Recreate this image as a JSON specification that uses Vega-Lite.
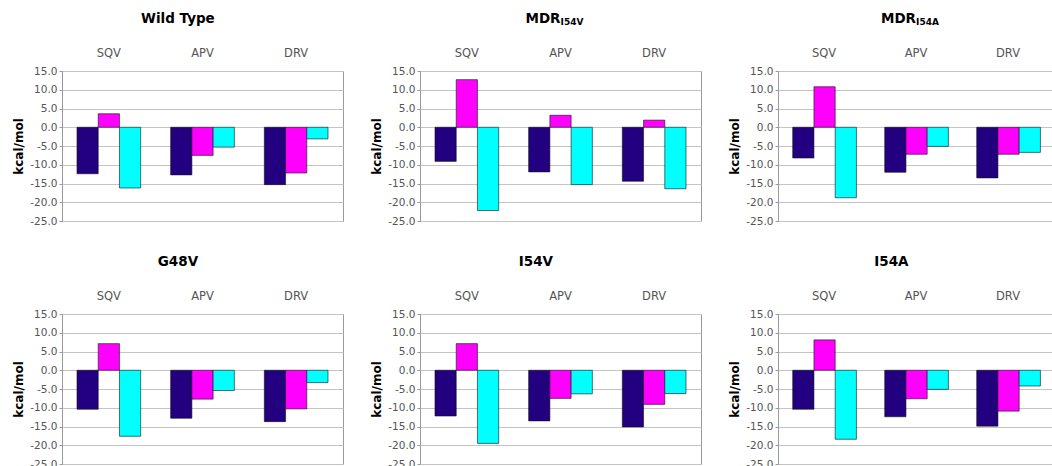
{
  "$schema": "https://vega.github.io/schema/vega-lite/v6.json",
  "background": "white",
  "padding": {"left": 12, "top": 11, "right": 0, "bottom": -3},
  "data": {"values": [
    {"panel": "Wild Type", "drug": "SQV", "component": "ΔG", "value": -12.4},
    {"panel": "Wild Type", "drug": "SQV", "component": "ΔH", "value": 3.6},
    {"panel": "Wild Type", "drug": "SQV", "component": "-TΔS", "value": -16.2},
    {"panel": "Wild Type", "drug": "APV", "component": "ΔG", "value": -12.7},
    {"panel": "Wild Type", "drug": "APV", "component": "ΔH", "value": -7.5},
    {"panel": "Wild Type", "drug": "APV", "component": "-TΔS", "value": -5.3},
    {"panel": "Wild Type", "drug": "DRV", "component": "ΔG", "value": -15.3},
    {"panel": "Wild Type", "drug": "DRV", "component": "ΔH", "value": -12.2},
    {"panel": "Wild Type", "drug": "DRV", "component": "-TΔS", "value": -3.1},
    {"panel": "MDR I54V", "drug": "SQV", "component": "ΔG", "value": -9.1},
    {"panel": "MDR I54V", "drug": "SQV", "component": "ΔH", "value": 12.7},
    {"panel": "MDR I54V", "drug": "SQV", "component": "-TΔS", "value": -22.2},
    {"panel": "MDR I54V", "drug": "APV", "component": "ΔG", "value": -11.9},
    {"panel": "MDR I54V", "drug": "APV", "component": "ΔH", "value": 3.2},
    {"panel": "MDR I54V", "drug": "APV", "component": "-TΔS", "value": -15.3},
    {"panel": "MDR I54V", "drug": "DRV", "component": "ΔG", "value": -14.4},
    {"panel": "MDR I54V", "drug": "DRV", "component": "ΔH", "value": 1.9},
    {"panel": "MDR I54V", "drug": "DRV", "component": "-TΔS", "value": -16.4},
    {"panel": "MDR I54A", "drug": "SQV", "component": "ΔG", "value": -8.2},
    {"panel": "MDR I54A", "drug": "SQV", "component": "ΔH", "value": 10.8},
    {"panel": "MDR I54A", "drug": "SQV", "component": "-TΔS", "value": -18.8},
    {"panel": "MDR I54A", "drug": "APV", "component": "ΔG", "value": -12.0},
    {"panel": "MDR I54A", "drug": "APV", "component": "ΔH", "value": -7.2},
    {"panel": "MDR I54A", "drug": "APV", "component": "-TΔS", "value": -5.1},
    {"panel": "MDR I54A", "drug": "DRV", "component": "ΔG", "value": -13.5},
    {"panel": "MDR I54A", "drug": "DRV", "component": "ΔH", "value": -7.2},
    {"panel": "MDR I54A", "drug": "DRV", "component": "-TΔS", "value": -6.7},
    {"panel": "G48V", "drug": "SQV", "component": "ΔG", "value": -10.4},
    {"panel": "G48V", "drug": "SQV", "component": "ΔH", "value": 7.1},
    {"panel": "G48V", "drug": "SQV", "component": "-TΔS", "value": -17.6},
    {"panel": "G48V", "drug": "APV", "component": "ΔG", "value": -12.8},
    {"panel": "G48V", "drug": "APV", "component": "ΔH", "value": -7.7},
    {"panel": "G48V", "drug": "APV", "component": "-TΔS", "value": -5.4},
    {"panel": "G48V", "drug": "DRV", "component": "ΔG", "value": -13.7},
    {"panel": "G48V", "drug": "DRV", "component": "ΔH", "value": -10.3},
    {"panel": "G48V", "drug": "DRV", "component": "-TΔS", "value": -3.3},
    {"panel": "I54V", "drug": "SQV", "component": "ΔG", "value": -12.2},
    {"panel": "I54V", "drug": "SQV", "component": "ΔH", "value": 7.1},
    {"panel": "I54V", "drug": "SQV", "component": "-TΔS", "value": -19.5},
    {"panel": "I54V", "drug": "APV", "component": "ΔG", "value": -13.5},
    {"panel": "I54V", "drug": "APV", "component": "ΔH", "value": -7.5},
    {"panel": "I54V", "drug": "APV", "component": "-TΔS", "value": -6.3},
    {"panel": "I54V", "drug": "DRV", "component": "ΔG", "value": -15.1},
    {"panel": "I54V", "drug": "DRV", "component": "ΔH", "value": -9.1},
    {"panel": "I54V", "drug": "DRV", "component": "-TΔS", "value": -6.2},
    {"panel": "I54A", "drug": "SQV", "component": "ΔG", "value": -10.4},
    {"panel": "I54A", "drug": "SQV", "component": "ΔH", "value": 8.1},
    {"panel": "I54A", "drug": "SQV", "component": "-TΔS", "value": -18.4},
    {"panel": "I54A", "drug": "APV", "component": "ΔG", "value": -12.4},
    {"panel": "I54A", "drug": "APV", "component": "ΔH", "value": -7.6},
    {"panel": "I54A", "drug": "APV", "component": "-TΔS", "value": -5.1},
    {"panel": "I54A", "drug": "DRV", "component": "ΔG", "value": -14.9},
    {"panel": "I54A", "drug": "DRV", "component": "ΔH", "value": -10.9},
    {"panel": "I54A", "drug": "DRV", "component": "-TΔS", "value": -4.2}
  ]},
  "columns": 3,
  "spacing": {"row": 27, "column": 26},
  "concat": [
    {
      "title": {"text": "Wild Type", "subtitle": "\u00a0"},
      "width": 281, "height": 150,
      "transform": [{"filter": "datum.panel === 'Wild Type'"}],
      "mark": {"type": "bar", "stroke": "#111111", "strokeWidth": 0.6},
      "encoding": {
        "x": {"field": "drug", "type": "nominal", "sort": ["SQV", "APV", "DRV"], "scale": {"paddingInner": 0.32, "paddingOuter": 0.16}, "axis": {"orient": "top", "title": null}},
        "xOffset": {"field": "component", "type": "nominal", "sort": ["ΔG", "ΔH", "-TΔS"]},
        "y": {"field": "value", "type": "quantitative", "scale": {"domain": [-25, 15], "nice": false, "zero": false}, "axis": {"title": "kcal/mol", "values": [-25, -20, -15, -10, -5, 0, 5, 10, 15]}},
        "color": {"field": "component", "type": "nominal", "scale": {"domain": ["ΔG", "ΔH", "-TΔS"], "range": ["#220080", "#FF00FF", "#00FFFF"]}, "legend": null}
      }
    },
    {
      "title": {"text": "\u200b\u00a0\u00a0\u00a0MDR", "subtitle": "\u200b\u00a0\u00a0\u00a0\u00a0\u00a0\u00a0\u00a0\u00a0\u00a0\u00a0\u00a0\u00a0\u00a0\u00a0\u00a0\u00a0\u00a0\u00a0\u00a0\u00a0\u00a0\u00a0\u00a0I54V"},
      "width": 281, "height": 150,
      "transform": [{"filter": "datum.panel === 'MDR I54V'"}],
      "mark": {"type": "bar", "stroke": "#111111", "strokeWidth": 0.6},
      "encoding": {
        "x": {"field": "drug", "type": "nominal", "sort": ["SQV", "APV", "DRV"], "scale": {"paddingInner": 0.32, "paddingOuter": 0.16}, "axis": {"orient": "top", "title": null}},
        "xOffset": {"field": "component", "type": "nominal", "sort": ["ΔG", "ΔH", "-TΔS"]},
        "y": {"field": "value", "type": "quantitative", "scale": {"domain": [-25, 15], "nice": false, "zero": false}, "axis": {"title": "kcal/mol", "values": [-25, -20, -15, -10, -5, 0, 5, 10, 15]}},
        "color": {"field": "component", "type": "nominal", "scale": {"domain": ["ΔG", "ΔH", "-TΔS"], "range": ["#220080", "#FF00FF", "#00FFFF"]}, "legend": null}
      }
    },
    {
      "title": {"text": "\u200b\u00a0\u00a0\u00a0MDR", "subtitle": "\u200b\u00a0\u00a0\u00a0\u00a0\u00a0\u00a0\u00a0\u00a0\u00a0\u00a0\u00a0\u00a0\u00a0\u00a0\u00a0\u00a0\u00a0\u00a0\u00a0\u00a0\u00a0\u00a0\u00a0I54A"},
      "width": 276, "height": 150,
      "transform": [{"filter": "datum.panel === 'MDR I54A'"}],
      "mark": {"type": "bar", "stroke": "#111111", "strokeWidth": 0.6},
      "encoding": {
        "x": {"field": "drug", "type": "nominal", "sort": ["SQV", "APV", "DRV"], "scale": {"paddingInner": 0.32, "paddingOuter": 0.16}, "axis": {"orient": "top", "title": null}},
        "xOffset": {"field": "component", "type": "nominal", "sort": ["ΔG", "ΔH", "-TΔS"]},
        "y": {"field": "value", "type": "quantitative", "scale": {"domain": [-25, 15], "nice": false, "zero": false}, "axis": {"title": "kcal/mol", "values": [-25, -20, -15, -10, -5, 0, 5, 10, 15]}},
        "color": {"field": "component", "type": "nominal", "scale": {"domain": ["ΔG", "ΔH", "-TΔS"], "range": ["#220080", "#FF00FF", "#00FFFF"]}, "legend": null}
      }
    },
    {
      "title": {"text": "G48V", "subtitle": "\u00a0"},
      "width": 281, "height": 150,
      "transform": [{"filter": "datum.panel === 'G48V'"}],
      "mark": {"type": "bar", "stroke": "#111111", "strokeWidth": 0.6},
      "encoding": {
        "x": {"field": "drug", "type": "nominal", "sort": ["SQV", "APV", "DRV"], "scale": {"paddingInner": 0.32, "paddingOuter": 0.16}, "axis": {"orient": "top", "title": null}},
        "xOffset": {"field": "component", "type": "nominal", "sort": ["ΔG", "ΔH", "-TΔS"]},
        "y": {"field": "value", "type": "quantitative", "scale": {"domain": [-25, 15], "nice": false, "zero": false}, "axis": {"title": "kcal/mol", "values": [-25, -20, -15, -10, -5, 0, 5, 10, 15]}},
        "color": {"field": "component", "type": "nominal", "scale": {"domain": ["ΔG", "ΔH", "-TΔS"], "range": ["#220080", "#FF00FF", "#00FFFF"]}, "legend": null}
      }
    },
    {
      "title": {"text": "I54V", "subtitle": "\u00a0"},
      "width": 281, "height": 150,
      "transform": [{"filter": "datum.panel === 'I54V'"}],
      "mark": {"type": "bar", "stroke": "#111111", "strokeWidth": 0.6},
      "encoding": {
        "x": {"field": "drug", "type": "nominal", "sort": ["SQV", "APV", "DRV"], "scale": {"paddingInner": 0.32, "paddingOuter": 0.16}, "axis": {"orient": "top", "title": null}},
        "xOffset": {"field": "component", "type": "nominal", "sort": ["ΔG", "ΔH", "-TΔS"]},
        "y": {"field": "value", "type": "quantitative", "scale": {"domain": [-25, 15], "nice": false, "zero": false}, "axis": {"title": "kcal/mol", "values": [-25, -20, -15, -10, -5, 0, 5, 10, 15]}},
        "color": {"field": "component", "type": "nominal", "scale": {"domain": ["ΔG", "ΔH", "-TΔS"], "range": ["#220080", "#FF00FF", "#00FFFF"]}, "legend": null}
      }
    },
    {
      "title": {"text": "I54A", "subtitle": "\u00a0"},
      "width": 276, "height": 150,
      "transform": [{"filter": "datum.panel === 'I54A'"}],
      "mark": {"type": "bar", "stroke": "#111111", "strokeWidth": 0.6},
      "encoding": {
        "x": {"field": "drug", "type": "nominal", "sort": ["SQV", "APV", "DRV"], "scale": {"paddingInner": 0.32, "paddingOuter": 0.16}, "axis": {"orient": "top", "title": null}},
        "xOffset": {"field": "component", "type": "nominal", "sort": ["ΔG", "ΔH", "-TΔS"]},
        "y": {"field": "value", "type": "quantitative", "scale": {"domain": [-25, 15], "nice": false, "zero": false}, "axis": {"title": "kcal/mol", "values": [-25, -20, -15, -10, -5, 0, 5, 10, 15]}},
        "color": {"field": "component", "type": "nominal", "scale": {"domain": ["ΔG", "ΔH", "-TΔS"], "range": ["#220080", "#FF00FF", "#00FFFF"]}, "legend": null}
      }
    }
  ],
  "resolve": {"scale": {"color": "independent"}},
  "config": {
    "font": "DejaVu Sans",
    "view": {"stroke": "#9a9a9a", "strokeWidth": 1},
    "scale": {"offsetBandPaddingInner": 0, "offsetBandPaddingOuter": 0},
    "title": {
      "font": "DejaVu Sans", "fontSize": 13.5, "fontWeight": "bold", "color": "#000000",
      "anchor": "middle", "frame": "bounds", "offset": 20,
      "subtitleFont": "DejaVu Sans", "subtitleFontSize": 9, "subtitleFontWeight": "bold", "subtitleColor": "#000000",
      "subtitlePadding": -7.5
    },
    "axisX": {
      "domain": false, "ticks": false, "grid": false,
      "labelAngle": 0, "labelFont": "DejaVu Sans", "labelFontSize": 11.5, "labelColor": "#555555", "labelPadding": 13
    },
    "axisY": {
      "labelExpr": "(datum.value < 0 ? '-' : '') + format(abs(datum.value), '.1f')",
      "labelOverlap": false, "labelFlush": false,
      "domain": true, "domainColor": "#9a9a9a",
      "ticks": true, "tickSize": 3, "tickColor": "#9a9a9a",
      "grid": true, "gridColor": "#c4c4c4", "gridWidth": 1,
      "labelFont": "DejaVu Sans", "labelFontSize": 10.5, "labelColor": "#555555", "labelPadding": 2,
      "titleFont": "DejaVu Sans", "titleFontSize": 12, "titleFontWeight": "bold", "titleColor": "#000000", "titlePadding": 4
    }
  }
}
